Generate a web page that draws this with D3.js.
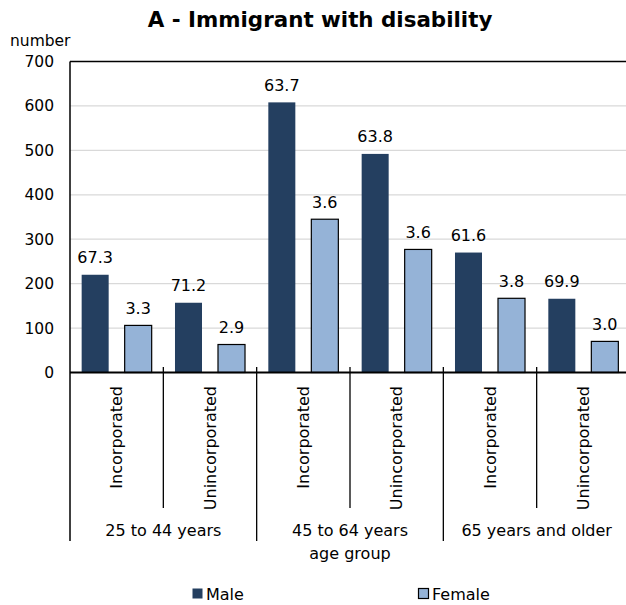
<!DOCTYPE html>
<html>
<head>
<meta charset="utf-8">
<script src="https://cdn.jsdelivr.net/npm/d3@7"></script>
<style>
  html, body { margin: 0; padding: 0; background: #fff; }
  svg { display: block; font-family: "DejaVu Sans", Verdana, sans-serif; }
</style>
</head>
<body>
<svg id="chart" width="626" height="605"></svg>
<script>
// Age groups and business types on the category axis
const ageGroups = ["25 to 44 years", "45 to 64 years", "65 years and older"];
const businessTypes = ["Incorporated", "Unincorporated"];
const seriesNames = ["Male", "Female"];

// Bar heights (number), one per age group × business type
const maleValues   = [220, 157, 608, 492, 270, 166];
const femaleValues = [106,  63, 345, 277, 167,  70];

// Labels printed above the bars
const maleLabels   = ["67.3", "71.2", "63.7", "63.8", "61.6", "69.9"];
const femaleLabels = ["3.3", "2.9", "3.6", "3.6", "3.8", "3.0"];

const yTicks = [0, 100, 200, 300, 400, 500, 600, 700];
const colors = { Male: "#243f60", Female: "#95b3d7" };

const svg = d3.select("#chart");
const plot = { left: 70, right: 630, top: 61.5, bottom: 372.5 };

const categories = [];
ageGroups.forEach((g, gi) => businessTypes.forEach((t, ti) => {
  const i = gi * businessTypes.length + ti;
  categories.push({ key: g + "|" + t, group: g, type: t, i,
    Male: maleValues[i], Female: femaleValues[i],
    labels: { Male: maleLabels[i], Female: femaleLabels[i] } });
}));

const x = d3.scaleBand().domain(categories.map(d => d.key))
  .range([plot.left, plot.right]).paddingInner(0).paddingOuter(0);
const xs = d3.scaleBand().domain(seriesNames)
  .range([0, x.bandwidth()]).paddingInner(0.372).paddingOuter(0.271);
const y = d3.scaleLinear().domain([0, 700]).range([plot.bottom, plot.top]);

// Title
svg.append("text").attr("x", 320).attr("y", 26.5).attr("text-anchor", "middle")
  .attr("font-weight", "bold").attr("font-size", 21.4).attr("fill", "#000")
  .text("A - Immigrant with disability");

// Unit label
svg.append("text").attr("x", 10).attr("y", 46).attr("font-size", 15.5).attr("fill", "#000")
  .text("number");

// Gridlines
svg.append("g").selectAll("line").data(yTicks.filter(v => v > 0 && v < 700)).join("line")
  .attr("x1", plot.left).attr("x2", plot.right)
  .attr("y1", d => y(d)).attr("y2", d => y(d))
  .attr("stroke", "#d9d9d9").attr("stroke-width", 1.3);

// Y axis labels
const yAxis = d3.axisLeft(y).tickValues(yTicks).tickSize(0).tickPadding(16);
const yg = svg.append("g").attr("transform", `translate(${plot.left},0)`).call(yAxis);
yg.select(".domain").remove();
yg.selectAll("text").attr("font-size", 15.5).attr("fill", "#000")
  .attr("font-family", "DejaVu Sans, Verdana, sans-serif");

// Bars
const catG = svg.append("g").selectAll("g").data(categories).join("g")
  .attr("transform", d => `translate(${x(d.key)},0)`);

catG.selectAll("rect").data(d => seriesNames.map(s => ({ s, v: d[s] }))).join("rect")
  .attr("x", d => xs(d.s)).attr("width", xs.bandwidth())
  .attr("y", d => y(d.v)).attr("height", d => y(0) - y(d.v))
  .attr("fill", d => colors[d.s])
  .attr("stroke", d => d.s === "Female" ? "#000" : "none")
  .attr("stroke-width", 1.2);

// Value labels
catG.selectAll("text.val").data(d => seriesNames.map(s => ({ s, v: d[s], label: d.labels[s] }))).join("text")
  .attr("class", "val")
  .attr("x", d => xs(d.s) + xs.bandwidth() / 2)
  .attr("y", d => y(d.v) - 11.5)
  .attr("text-anchor", "middle").attr("font-size", 16).attr("fill", "#000")
  .text(d => d.label);

// Plot frame: top border, left axis, zero line
svg.append("line").attr("x1", plot.left).attr("x2", plot.right)
  .attr("y1", plot.top).attr("y2", plot.top).attr("stroke", "#000").attr("stroke-width", 1.5);
svg.append("line").attr("x1", plot.left).attr("x2", plot.left)
  .attr("y1", plot.top).attr("y2", 541).attr("stroke", "#000").attr("stroke-width", 1.5);

// Category separators: short ones between business types, long ones between age groups
const bounds = d3.range(1, categories.length + 1).map(i => ({ i, xv: plot.left + i * x.step() }));
svg.append("g").selectAll("line").data(bounds).join("line")
  .attr("x1", d => d.xv).attr("x2", d => d.xv)
  .attr("y1", 367).attr("y2", d => d.i % businessTypes.length === 0 ? 541 : 508)
  .attr("stroke", "#000").attr("stroke-width", 1.3);

svg.append("line").attr("x1", plot.left).attr("x2", plot.right)
  .attr("y1", y(0)).attr("y2", y(0)).attr("stroke", "#000").attr("stroke-width", 2.2);

// Business type labels (rotated)
svg.append("g").selectAll("text").data(categories).join("text")
  .attr("transform", d => `translate(${x(d.key) + x.bandwidth() / 2 + 5.5},386) rotate(-90)`)
  .attr("text-anchor", "end").attr("font-size", 16).attr("fill", "#000")
  .text(d => d.type);

// Age group labels
svg.append("g").selectAll("text").data(ageGroups).join("text")
  .attr("x", (d, gi) => plot.left + (gi + 0.5) * x.step() * businessTypes.length)
  .attr("y", 536).attr("text-anchor", "middle").attr("font-size", 16).attr("fill", "#000")
  .text(d => d);

svg.append("text").attr("x", 350).attr("y", 559).attr("text-anchor", "middle")
  .attr("font-size", 16).attr("fill", "#000").text("age group");

// Legend
const legendX = { Male: 192, Female: 418 };
const lg = svg.append("g").selectAll("g").data(seriesNames).join("g")
  .attr("transform", d => `translate(${legendX[d]},588)`);
lg.append("rect").attr("x", 0.5).attr("y", 0.5).attr("width", 10).attr("height", 10)
  .attr("fill", d => colors[d])
  .attr("stroke", d => d === "Female" ? "#000" : "none").attr("stroke-width", 1.2);
lg.append("text").attr("x", 14).attr("y", 11.5).attr("font-size", 16).attr("fill", "#000")
  .text(d => d);
</script>
</body>
</html>
